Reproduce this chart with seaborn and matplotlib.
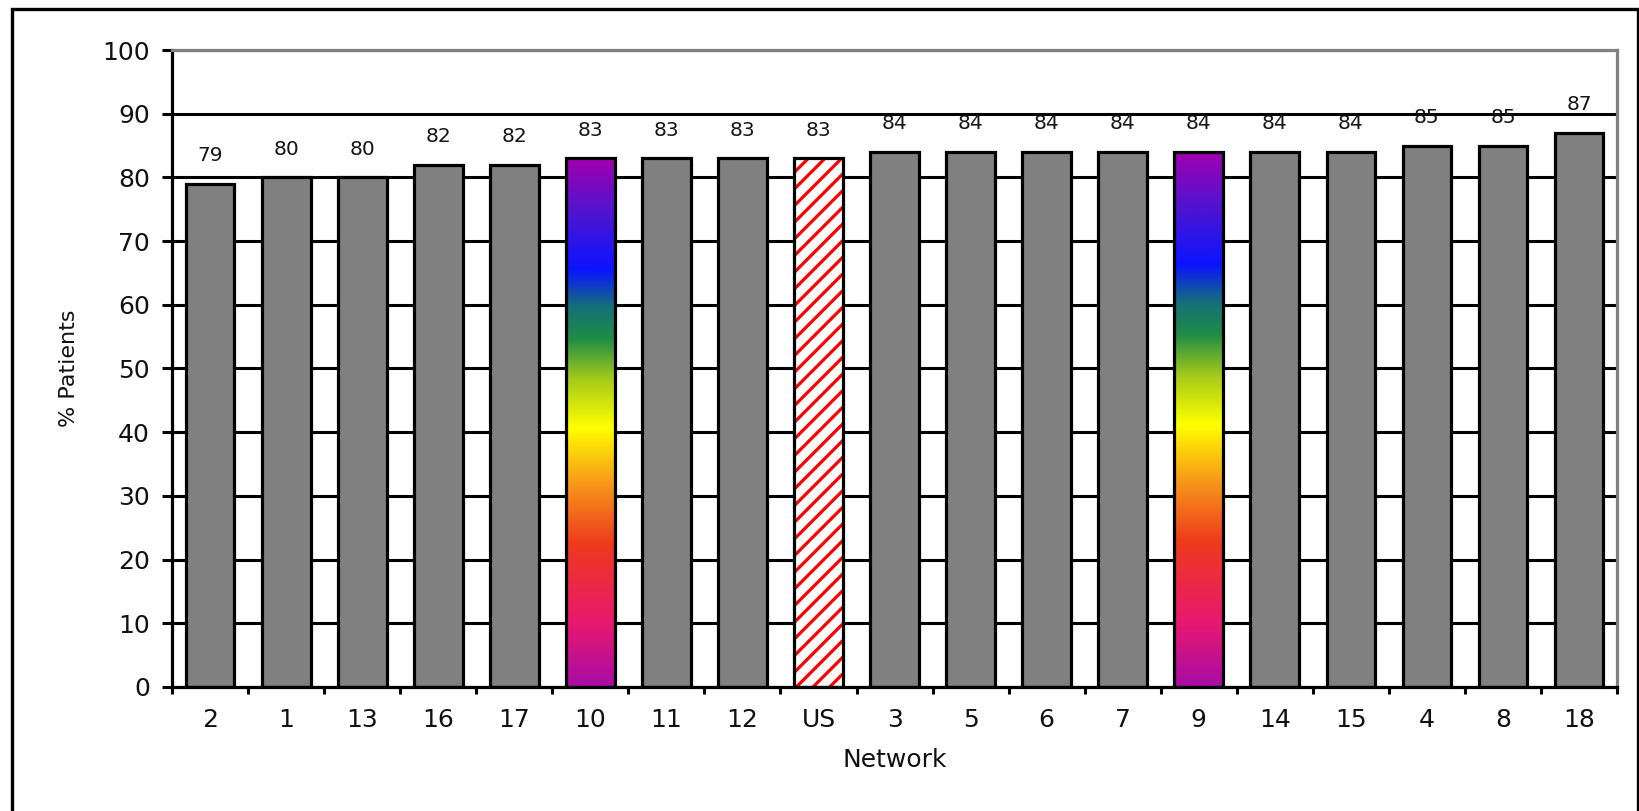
import numpy as np
import pandas as pd
import matplotlib
matplotlib.use("Agg")
import matplotlib.pyplot as plt
import seaborn as sns
from matplotlib.colors import LinearSegmentedColormap
from matplotlib.patches import Rectangle

categories = ['2', '1', '13', '16', '17', '10', '11', '12', 'US', '3', '5', '6',
              '7', '9', '14', '15', '4', '8', '18']
values = [79, 80, 80, 82, 82, 83, 83, 83, 83, 84, 84, 84, 84, 84, 84, 84, 85, 85, 87]
gradient_cats = ['10', '9']
hatched_cats = ['US']
y_ticks = list(range(0, 101, 10))

sns.set_theme(style="white")
plt.rcParams['font.family'] = ['DejaVu Sans']
plt.rcParams['hatch.linewidth'] = 2.3

df = pd.DataFrame({'Network': categories, 'Pct': values})
palette = {c: ('#808080' if c not in gradient_cats + hatched_cats else 'white') for c in categories}

fig = plt.figure(figsize=(16.39, 8.11), dpi=100)
ax = fig.add_axes([0.105, 0.153, 0.8816, 0.7853])

sns.barplot(data=df, x='Network', y='Pct', hue='Network', palette=palette, legend=False,
            order=categories, width=0.64, edgecolor='black', linewidth=2.3,
            saturation=1, ax=ax, zorder=2)

rainbow = LinearSegmentedColormap.from_list('rb', [
    (0.00, '#A80CA8'), (0.12, '#E8186E'), (0.27, '#EE3A1C'), (0.38, '#F7941A'),
    (0.49, '#FFFF00'), (0.58, '#A8CC1A'), (0.66, '#1E8C46'), (0.72, '#15707A'),
    (0.79, '#0A14FF'), (0.90, '#5014D0'), (1.00, '#A000B0')])

grad = np.linspace(0, 1, 256).reshape(-1, 1)
for patch, cat in zip(ax.patches, categories):
    if cat in gradient_cats:
        patch.set_facecolor('none')
        x0, y0 = patch.get_x(), patch.get_y()
        w, h = patch.get_width(), patch.get_height()
        im = ax.imshow(grad, cmap=rainbow, origin='lower', aspect='auto',
                       extent=(x0, x0 + w, y0, y0 + h), zorder=1.5, interpolation='bilinear')
        im.set_clip_path(patch)
    elif cat in hatched_cats:
        patch.set_facecolor('white')
        patch.set_edgecolor('red')
        patch.set_hatch('//')
        patch.set_linewidth(0)
        ax.add_patch(Rectangle((patch.get_x(), patch.get_y()), patch.get_width(), patch.get_height(),
                               facecolor='none', edgecolor='black', linewidth=2.3, zorder=2.1))

for i, v in enumerate(values):
    ax.text(i, v + 4.4, str(v), ha='center', va='center', fontsize=14.5, color='#151515')

ax.set_xlim(-0.5, len(categories) - 0.5)
ax.set_ylim(0, 100)
ax.set_yticks(y_ticks)
ax.set_axisbelow(True)
ax.yaxis.grid(True, color='black', linewidth=2.2)
ax.xaxis.grid(False)

for s in ['left', 'bottom']:
    ax.spines[s].set_color('black')
    ax.spines[s].set_linewidth(2.3)
for s in ['top', 'right']:
    ax.spines[s].set_color('#808080')
    ax.spines[s].set_linewidth(2.3)

ax.set_xticks(np.arange(-0.5, len(categories), 1.0), minor=True)
ax.tick_params(axis='x', which='major', length=0, pad=15, labelsize=18, colors='#111111')
ax.tick_params(axis='x', which='minor', length=5, width=2.2, color='black', direction='out', bottom=True)
ax.tick_params(axis='y', which='major', length=7, width=2.2, color='black', direction='out',
               left=True, pad=9, labelsize=18, labelcolor='#111111')

ax.set_xlabel('Network', fontsize=18, labelpad=12, color='#111111')
ax.set_ylabel('% Patients', fontsize=16, labelpad=17, color='#111111')

fig.add_artist(Rectangle((12 / 1639, -0.05), (1638 - 12) / 1639, 0.05 + (811 - 9) / 811,
                         transform=fig.transFigure, facecolor='none', edgecolor='black',
                         linewidth=2.4, clip_on=False))

fig.savefig('out.png', dpi=100, facecolor='white')
